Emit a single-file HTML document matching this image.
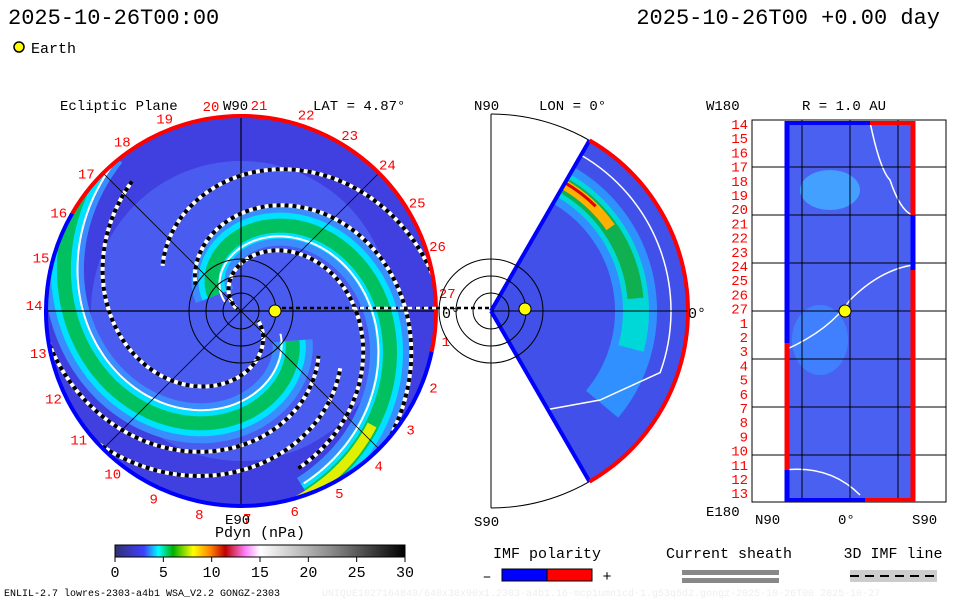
<!DOCTYPE html>
<html><head><meta charset="utf-8"><style>
body{margin:0;background:#fff;width:960px;height:600px;overflow:hidden}
svg text{font-family:"Liberation Mono","DejaVu Sans Mono",monospace}
</style></head><body>
<svg id="s" width="960" height="600" viewBox="0 0 960 600" xmlns="http://www.w3.org/2000/svg">
<defs>
<clipPath id="cl"><circle cx="241" cy="311" r="193"/></clipPath>
<clipPath id="cw"><path d="M491,311 L589.5,140.4 A197,197 0 0,1 589.5,481.6 Z"/></clipPath>
<linearGradient id="cb" x1="0" x2="1">
<stop offset="0" stop-color="#303070"/><stop offset="0.1" stop-color="#3f3fff"/><stop offset="0.15" stop-color="#00ffff"/><stop offset="0.2" stop-color="#00b000"/><stop offset="0.27" stop-color="#ffff00"/><stop offset="0.33" stop-color="#ff8000"/><stop offset="0.38" stop-color="#c00000"/><stop offset="0.45" stop-color="#ff80ff"/><stop offset="0.5" stop-color="#fff"/><stop offset="0.75" stop-color="#888"/><stop offset="1" stop-color="#000"/>
</linearGradient>
</defs>
<g id="g"></g>
</svg>
<script>
const NS='http://www.w3.org/2000/svg';
const svg=document.getElementById('g');
const cbTicks=[0,5,10,15,20,25,30];
const hourLabels=[14,15,16,17,18,19,20,21,22,23,24,25,26,27,1,2,3,4,5,6,7,8,9,10,11,12,13];
const arm1=[143,-70,150];
const arm2=[307,130,330];
function el(t,a,txt,p){const e=document.createElementNS(NS,t);for(const k in a)e.setAttribute(k,a[k]);if(txt!=null)e.textContent=txt;(p||svg).appendChild(e);return e;}
function txt(x,y,s,o){o=o||{};const e=el('text',{x:x,y:y,'font-size':o.fs||14,fill:o.fill||'#000','text-anchor':o.a||'start'},s,o.p);return e;}
const CX=241,CY=311,R=195;
let t;
t=txt(8,24,'2025-10-26T00:00',{fs:22});
t=txt(940,24,'2025-10-26T00 +0.00 day',{fs:22,a:'end'});
let c=el('circle',{cx:19,cy:47,r:5,fill:'#ff0',stroke:'#000','stroke-width':1.5});

txt(31,53,'Earth',{fs:15});
// left plot
const lp=el('g',{});
el('circle',{cx:CX,cy:CY,r:R,fill:'#4040e0'},null,lp);
const cg=el('g',{'clip-path':'url(#cl)'},null,lp);
el('circle',{cx:CX,cy:CY,r:150,fill:'#4a5cf0'},null,cg);
function spiral(arm,off){const [C,a0,a1]=arm;let d='';for(let th=a0;th<=a1;th+=2){const r=C-0.75*th+off;if(r<3)break;const x=CX+r*Math.cos(th*Math.PI/180),y=CY-r*Math.sin(th*Math.PI/180);d+=(d?'L':'M')+x.toFixed(1)+','+y.toFixed(1);}return d;}
[[arm1,'#3a8cff',40],[arm1,'#00e0ff',26],[arm1,'#00c060',14],[arm2,'#3a8cff',40],[arm2,'#00e0ff',26],[arm2,'#00c060',14]].forEach(([a,col,w])=>{el('path',{d:spiral(a,0),fill:'none',stroke:col,'stroke-width':w},null,cg);});
el('path',{d:spiral(arm1,-12),fill:'none',stroke:'#fff','stroke-width':2},null,cg);
el('path',{d:spiral(arm2,-14),fill:'none',stroke:'#fff','stroke-width':2},null,cg);
el('path',{d:spiral([arm1[0],-75,-40],0),fill:'none',stroke:'#e0f000','stroke-width':10},null,cg);
[[arm1,-28],[arm1,22],[arm2,-40],[arm2,30],[arm2,55],[arm1,60]].forEach(([a,o])=>{const d=spiral(a,o);el('path',{d:d,fill:'none',stroke:'#fff','stroke-width':4},null,cg);el('path',{d:d,fill:'none',stroke:'#000','stroke-width':4,'stroke-dasharray':'4 4'},null,cg);});
for(let k=0;k<4;k++){const a=k*45*Math.PI/180;el('line',{x1:CX-R*Math.cos(a),y1:CY-R*Math.sin(a),x2:CX+R*Math.cos(a),y2:CY+R*Math.sin(a),stroke:'#000','stroke-width':k%2?0.8:1.2},null,lp);}
[18,35,52].forEach(r=>el('circle',{cx:CX,cy:CY,r:r,fill:'none',stroke:'#000','stroke-width':1},null,lp));
el('path',{d:`M${CX+R*Math.cos(150*Math.PI/180)},${CY-R*Math.sin(150*Math.PI/180)} A${R},${R} 0 0,1 ${CX+R*Math.cos(-12*Math.PI/180)},${CY-R*Math.sin(-12*Math.PI/180)}`,fill:'none',stroke:'#f00','stroke-width':4},null,lp);
el('path',{d:`M${CX+R*Math.cos(-12*Math.PI/180)},${CY-R*Math.sin(-12*Math.PI/180)} A${R},${R} 0 1,1 ${CX+R*Math.cos(150*Math.PI/180)},${CY-R*Math.sin(150*Math.PI/180)}`,fill:'none',stroke:'#00f','stroke-width':4},null,lp);
hourLabels.forEach((h,i)=>{const a=(85-(i-7)*13.33)*Math.PI/180;const e=txt(CX+207*Math.cos(a),CY-207*Math.sin(a)+5,String(h),{fs:14,fill:'#f00',a:'middle',p:lp});});
txt(60,110,'Ecliptic Plane',{fs:14});txt(223,110,'W90',{fs:14});txt(313,110,'LAT = 4.87°',{fs:14});txt(225,524,'E90',{fs:14});
el('line',{x1:275,y1:308,x2:491,y2:308,stroke:'#000','stroke-width':2.5,'stroke-dasharray':'4 3'});
el('line',{x1:352,y1:308,x2:436,y2:308,stroke:'#fff','stroke-width':2.5,'stroke-dasharray':'4 4'});
txt(442,318,'0°',{fs:15});
c=el('circle',{cx:275,cy:311,r:6,fill:'#ff0',stroke:'#000'});
// middle
const mp=el('g',{});
el('path',{d:'M491,114 A197,197 0 0,1 491,508',fill:'none',stroke:'#000'},null,mp);
el('line',{x1:491,y1:114,x2:491,y2:508,stroke:'#000'},null,mp);
const wg=el('g',{'clip-path':'url(#cw)'},null,mp);
el('rect',{x:491,y:114,width:200,height:400,fill:'#4050e8'},null,wg);
function arc(r,a0,a1){const p=a=>[491+r*Math.cos(a*Math.PI/180),311-r*Math.sin(a*Math.PI/180)];const s=p(a0),e=p(a1);return `M${s[0]},${s[1]} A${r},${r} 0 0,1 ${e[0]},${e[1]}`;}
el('path',{d:arc(145,62,-40),fill:'none',stroke:'#3090ff','stroke-width':42},null,wg);
el('path',{d:arc(145,62,-15),fill:'none',stroke:'#00d8d8','stroke-width':26},null,wg);
el('path',{d:arc(145,62,5),fill:'none',stroke:'#10b050','stroke-width':16},null,wg);
el('path',{d:arc(146,60,35),fill:'none',stroke:'#ffb000','stroke-width':10},null,wg);
el('path',{d:arc(148,60,45),fill:'none',stroke:'#e00000','stroke-width':3},null,wg);
el('path',{d:arc(180,60,-20)+' L600,400 L545,410',fill:'none',stroke:'#fff','stroke-width':1.5},null,wg);
[-60,60].forEach(a=>{const r=a*Math.PI/180;el('line',{x1:491,y1:311,x2:491+197*Math.cos(r),y2:311-197*Math.sin(r),stroke:'#000'},null,mp);});
el('path',{d:'M491,311 L589.5,140.4',stroke:'#00f','stroke-width':4},null,mp);
el('path',{d:'M491,311 L589.5,481.6',stroke:'#00f','stroke-width':4},null,mp);
el('path',{d:'M589.5,140.4 A197,197 0 0,1 589.5,481.6',fill:'none',stroke:'#f00','stroke-width':4},null,mp);
el('line',{x1:491,y1:311,x2:688,y2:311,stroke:'#000'},null,mp);
[18,35,52].forEach(r=>el('circle',{cx:491,cy:311,r:r,fill:'none',stroke:'#000'},null,mp));
c=el('circle',{cx:525,cy:309,r:6,fill:'#ff0',stroke:'#000'},null,mp);
txt(474,110,'N90',{fs:14});txt(539,110,'LON = 0°',{fs:14});txt(474,526,'S90',{fs:14});txt(688,318,'0°',{fs:15});
// right
const rp=el('g',{});
el('rect',{x:752,y:120,width:194,height:382,fill:'#fff',stroke:'#000'},null,rp);
el('rect',{x:785,y:121,width:130,height:381,fill:'#4a60f0'},null,rp);
el('ellipse',{cx:830,cy:190,rx:30,ry:20,fill:'#44a0ff'},null,rp);
el('ellipse',{cx:820,cy:340,rx:28,ry:35,fill:'#4080ff'},null,rp);
el('path',{d:'M870,122 Q880,170 890,180 Q900,210 912,215',fill:'none',stroke:'#fff','stroke-width':1.5},null,rp);
el('path',{d:'M785,350 Q830,330 850,300 Q880,270 913,265',fill:'none',stroke:'#fff','stroke-width':1.5},null,rp);
el('path',{d:'M785,470 Q830,465 860,495',fill:'none',stroke:'#fff','stroke-width':1.5},null,rp);
[802,850,898].forEach(x=>el('line',{x1:x,y1:120,x2:x,y2:502,stroke:'#000'},null,rp));
[167,215,263,311,359,407,455].forEach(y=>el('line',{x1:752,y1:y,x2:946,y2:y,stroke:'#000'},null,rp));
el('line',{x1:787,y1:121,x2:787,y2:502,stroke:'#00f','stroke-width':5},null,rp);
el('line',{x1:787,y1:343,x2:787,y2:470,stroke:'#f00','stroke-width':5},null,rp);
el('line',{x1:913,y1:121,x2:913,y2:502,stroke:'#f00','stroke-width':5},null,rp);
el('line',{x1:913,y1:215,x2:913,y2:270,stroke:'#00f','stroke-width':5},null,rp);
el('line',{x1:785,y1:123,x2:870,y2:123,stroke:'#00f','stroke-width':4},null,rp);
el('line',{x1:870,y1:123,x2:915,y2:123,stroke:'#f00','stroke-width':4},null,rp);
el('line',{x1:785,y1:500,x2:865,y2:500,stroke:'#00f','stroke-width':4},null,rp);
el('line',{x1:865,y1:500,x2:915,y2:500,stroke:'#f00','stroke-width':4},null,rp);
hourLabels.forEach((h,i)=>{const y=124+i*14.2;const e=txt(748,y+5,String(h),{fs:14,fill:'#f00',a:'end',p:rp});});
c=el('circle',{cx:845,cy:311,r:6,fill:'#ff0',stroke:'#000'},null,rp);
txt(706,110,'W180',{fs:14});txt(802,110,'R = 1.0 AU',{fs:14});txt(706,516,'E180',{fs:14});
txt(755,524,'N90',{fs:14});txt(838,524,'0°',{fs:14});txt(912,524,'S90',{fs:14});
// colorbar
txt(260,537,'Pdyn (nPa)',{fs:15,a:'middle'});
const cb=el('rect',{x:115,y:545,width:290,height:12,fill:'url(#cb)',stroke:'#000'});

cbTicks.forEach(v=>{const x=115+v/30*290;el('line',{x1:x,y1:557,x2:x,y2:562,stroke:'#000'});const e=txt(x,577,String(v),{fs:15,a:'middle'});});
// legends
txt(547,558,'IMF polarity',{fs:15,a:'middle'});txt(487,581,'–',{fs:15,a:'middle'});txt(607,581,'+',{fs:15,a:'middle'});
el('rect',{x:502,y:569,width:46,height:12,fill:'#00f',stroke:'#000'});el('rect',{x:547,y:569,width:45,height:12,fill:'#f00',stroke:'#000'});
txt(729,558,'Current sheath',{fs:15,a:'middle'});
el('rect',{x:682,y:570,width:97,height:5,fill:'#888'});el('rect',{x:682,y:578,width:97,height:5,fill:'#888'});
txt(893,558,'3D IMF line',{fs:15,a:'middle'});
el('rect',{x:850,y:570,width:87,height:12,fill:'#ccc'});el('line',{x1:850,y1:576,x2:937,y2:576,stroke:'#000','stroke-width':2,'stroke-dasharray':'9 6'});
txt(4,596,'ENLIL-2.7 lowres-2303-a4b1 WSA_V2.2 GONGZ-2303',{fs:10});
txt(322,596,'UNIQUE1027164849/640x30x90x1.2303-a4b1.16-mcp1umn1cd-1.g53q5d2.gongz-2025-10-26T00    2025-10-27',{fs:10,fill:'#eee'});
</script>
</body></html>
